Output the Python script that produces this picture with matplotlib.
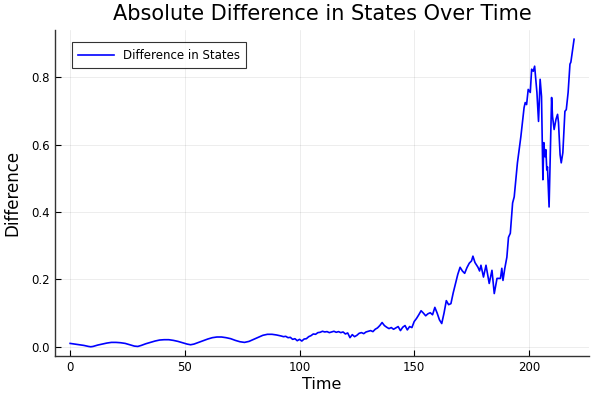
import matplotlib
matplotlib.use("Agg")
import matplotlib.pyplot as plt

time = [0, 2, 4, 6, 8, 9, 10, 12, 14, 16, 18, 20, 22, 24, 26, 28, 29.5, 31, 33, 35,
        37, 39, 41, 43, 45, 47, 49, 51, 52.5, 54, 56, 58, 60, 62, 64, 66, 68, 70, 72, 74,
        76, 78, 80, 82, 84, 86, 88, 90, 92, 93, 94, 95, 96, 97, 98, 99, 100, 101, 102, 103,
        104, 105, 106, 107, 108, 109, 110, 111, 112, 113, 114, 115, 116, 117, 118, 119, 120,
        121, 122, 123, 124, 125, 126, 127, 128, 129, 130, 131, 132, 133, 134, 135, 136, 137,
        138, 139, 140, 141, 142, 143, 144, 145, 146, 147, 148, 149, 150, 151, 152, 153, 154,
        155, 156, 157, 158, 159, 160, 161, 162, 163, 164, 165, 166, 167, 168, 169, 170, 171,
        172, 173, 174, 175, 175.6, 176.5, 177.8, 178.5, 179.1, 180.2, 181.3, 182.7, 183.9,
        184.9, 186.1, 187.6, 188.2, 188.7, 189.5, 190.4, 191.1, 191.9, 192.9, 193.6, 195.0,
        196.5, 197.9, 198.4, 199.0, 199.7, 200.6, 201.2, 201.9, 202.5, 203.0, 203.5, 204.2,
        204.9, 205.5, 206.1, 206.5, 207.0, 207.4, 207.8, 208.1, 208.8, 209.9, 210.3, 211.0,
        211.8, 212.5, 212.9, 213.6, 214.1, 214.8, 215.7, 216.3, 217.1, 217.9, 218.3, 219.7]

difference = [0.010, 0.008, 0.006, 0.004, 0.001, 0.000, 0.001, 0.005, 0.008, 0.011, 0.013,
              0.013, 0.012, 0.010, 0.006, 0.002, 0.001, 0.004, 0.009, 0.013, 0.017, 0.020,
              0.021, 0.021, 0.019, 0.016, 0.012, 0.008, 0.006, 0.008, 0.013, 0.018, 0.023,
              0.027, 0.029, 0.029, 0.027, 0.024, 0.019, 0.015, 0.013, 0.016, 0.022, 0.028,
              0.034, 0.037, 0.037, 0.035, 0.032, 0.030, 0.031, 0.027, 0.028, 0.022, 0.024,
              0.018, 0.022, 0.017, 0.023, 0.024, 0.030, 0.033, 0.038, 0.037, 0.042, 0.043,
              0.046, 0.044, 0.045, 0.042, 0.044, 0.046, 0.043, 0.045, 0.042, 0.044, 0.038,
              0.041, 0.027, 0.036, 0.030, 0.034, 0.040, 0.042, 0.039, 0.044, 0.046, 0.048,
              0.045, 0.052, 0.056, 0.063, 0.072, 0.063, 0.058, 0.054, 0.057, 0.052, 0.056,
              0.060, 0.048, 0.058, 0.063, 0.050, 0.060, 0.057, 0.075, 0.084, 0.095, 0.107,
              0.100, 0.092, 0.098, 0.101, 0.095, 0.117, 0.100, 0.080, 0.069, 0.100, 0.137,
              0.125, 0.128, 0.160, 0.188, 0.215, 0.236, 0.225, 0.218, 0.235, 0.248, 0.255,
              0.269, 0.250, 0.236, 0.225, 0.242, 0.207, 0.242, 0.188, 0.227, 0.158, 0.203,
              0.203, 0.233, 0.197, 0.233, 0.266, 0.325, 0.337, 0.427, 0.445, 0.546, 0.624,
              0.710, 0.725, 0.719, 0.764, 0.755, 0.824, 0.818, 0.833, 0.794, 0.755, 0.669,
              0.794, 0.743, 0.496, 0.606, 0.564, 0.585, 0.525, 0.534, 0.415, 0.740, 0.684,
              0.645, 0.675, 0.690, 0.666, 0.570, 0.546, 0.576, 0.699, 0.704, 0.755, 0.839,
              0.845, 0.913]

xticks = [0, 50, 100, 150, 200]
yticks = [0.0, 0.2, 0.4, 0.6, 0.8]

fig = plt.figure(figsize=(6, 4), dpi=100)
ax = fig.add_axes([0.0917, 0.11, 0.8903, 0.815])
ax.plot(time, difference, color="blue", linewidth=1.2, label="Difference in States")

xr = max(time) - min(time)
yr = max(difference) - min(difference)
ax.set_xlim(min(time) - 0.03 * xr, max(time) + 0.03 * xr)
ax.set_ylim(min(difference) - 0.03 * yr, max(difference) + 0.03 * yr)

ax.set_xticks(xticks)
ax.set_xticklabels([str(v) for v in xticks])
ax.set_yticks(yticks)
ax.set_yticklabels([f"{v:.1f}" for v in yticks])
ax.tick_params(direction="in", length=4, width=0.8, labelsize=8.5, color="black")
ax.grid(True, color="black", alpha=0.1, linewidth=0.5)
for s in ["top", "right"]:
    ax.spines[s].set_visible(False)
for s in ["left", "bottom"]:
    ax.spines[s].set_color("#333333")
    ax.spines[s].set_linewidth(1.0)

ax.set_title("Absolute Difference in States Over Time", fontsize=15, pad=7)
ax.set_xlabel("Time", fontsize=11.5, labelpad=2)
ax.set_ylabel("Difference", fontsize=12, labelpad=7)

leg = ax.legend(loc="upper left", fontsize=8.5, frameon=True, fancybox=False,
                edgecolor="black", borderpad=0.55, handlelength=3.0,
                bbox_to_anchor=(0.02, 0.98))
leg.get_frame().set_linewidth(0.8)

fig.savefig("out.png", dpi=100)
